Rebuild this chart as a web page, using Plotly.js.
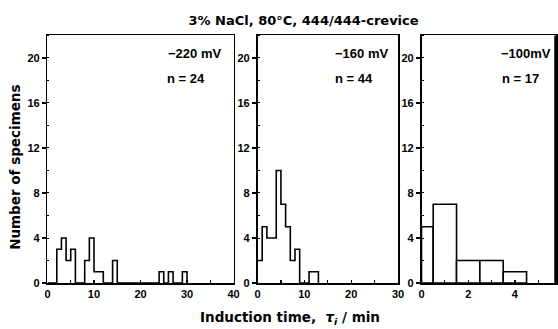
<!DOCTYPE html>
<html>
<head>
<meta charset="utf-8">
<script src="https://cdn.plot.ly/plotly-3.0.1.min.js"></script>
<style>html,body{margin:0;padding:0;background:#fff}#chart{width:558px;height:329px}</style>
</head>
<body>
<div id="chart"></div>
<script>
// ---- data ----
const chartTitle = "3% NaCl, 80°C, 444/444-crevice";
const potentials = ["−220 mV", "−160 mV", "−100mV"];
const sampleSizes = ["n = 24", "n = 44", "n = 17"];

// panel 1 (-220 mV): 1-min bins, bin start (min) and count
const p1BinStart = [2, 3, 4, 5, 8, 9, 10, 11, 14, 24, 26, 29];
const p1Counts   = [3, 4, 2, 3, 2, 4, 1, 1, 2, 1, 1, 1];
// panel 2 (-160 mV)
const p2BinStart = [0, 1, 2, 3, 4, 5, 6, 7, 8, 11, 12];
const p2Counts   = [2, 5, 4, 4, 10, 7, 5, 2, 3, 1, 1];
// panel 3 (-100 mV): bin edges and counts
const p3Edges  = [0, 0.5, 1.5, 2.5, 3.5, 4.5];
const p3Counts = [5, 7, 2, 2, 1];

const yTicks = [0, 4, 8, 12, 16, 20];

// ---- build step outlines ----
function stepPath(starts, counts, width) {
  const m = {};
  starts.forEach((s, i) => { m[s] = counts[i]; });
  const last = Math.max(...starts);
  const xs = [], ys = [];
  for (let b = 0; b <= last; b += width) {
    xs.push(b); ys.push(m[b] || 0);
  }
  xs.push(last + width); ys.push(0);
  return {x: xs, y: ys};
}
const s1 = stepPath(p1BinStart, p1Counts, 1);
const s2 = stepPath(p2BinStart, p2Counts, 1);

const lineStyle = {color: "black", width: 1.6, shape: "hv"};
const p3Centers = p3Counts.map((_, i) => (p3Edges[i] + p3Edges[i + 1]) / 2);
const p3Widths = p3Counts.map((_, i) => p3Edges[i + 1] - p3Edges[i]);

const traces = [
  {type: "scatter", mode: "lines", x: s1.x, y: s1.y, line: lineStyle, xaxis: "x", yaxis: "y", hoverinfo: "skip"},
  {type: "scatter", mode: "lines", x: s2.x, y: s2.y, line: lineStyle, xaxis: "x2", yaxis: "y2", hoverinfo: "skip"},
  {type: "bar", x: p3Centers, y: p3Counts, width: p3Widths, xaxis: "x3", yaxis: "y3",
   marker: {color: "white", line: {color: "black", width: 1.6}}, hoverinfo: "skip"}
];

const FONT = "Liberation Sans, Arial, sans-serif";
const WIDE = "DejaVu Sans, Verdana, sans-serif";
const tickFont = {family: FONT, size: 11, color: "black", weight: "bold"};

function xAxis(domain, range, dtick, minor) {
  return {
    domain: domain, range: range, showgrid: false, zeroline: false,
    showline: true, mirror: true, linecolor: "black", linewidth: 1.6,
    ticks: "inside", ticklen: 3, tickwidth: 1.2, tickcolor: "black", dtick: dtick, tick0: 0,
    minor: {ticks: "inside", ticklen: 3, dtick: minor, tick0: 0, tickcolor: "black", tickwidth: 1.2},
    tickfont: tickFont, fixedrange: true
  };
}
function yAxis(anchor) {
  return {
    domain: [0.1398, 0.8921], range: [0, 22], anchor: anchor,
    showgrid: false, zeroline: false, showline: true, mirror: true,
    linecolor: "black", linewidth: 1.6,
    tickmode: "array", tickvals: yTicks, ticktext: yTicks.map(String),
    ticks: "outside", ticklen: 4, tickwidth: 1.2, tickcolor: "black",
    minor: {ticks: "inside", ticklen: 2, dtick: 2, tick0: 0, tickcolor: "black", tickwidth: 1},
    tickfont: tickFont, fixedrange: true
  };
}

const txtFont = {family: FONT, size: 13, color: "black", weight: "bold"};
const axTitleFont = {family: WIDE, size: 13.5, color: "black", weight: "bold"};
const annotations = [];
const refs = [["x domain", "y domain"], ["x2 domain", "y2 domain"], ["x3 domain", "y3 domain"]];
const potX = [0.944, 0.943, 0.975];
const nX = [0.632, 0.537, 0.584];
for (let i = 0; i < 3; i++) {
  annotations.push({xref: refs[i][0], yref: refs[i][1], x: potX[i], y: 0.929, xanchor: "right", yanchor: "middle",
    text: potentials[i], showarrow: false, font: txtFont});
  annotations.push({xref: refs[i][0], yref: refs[i][1], x: nX[i], y: 0.828, xanchor: "left", yanchor: "middle",
    text: sampleSizes[i], showarrow: false, font: txtFont});
}
annotations.push({xref: "paper", yref: "paper", x: 0.027, y: 0.49, textangle: -90, xanchor: "center", yanchor: "middle",
  text: "Number of specimens", showarrow: false, font: axTitleFont});
annotations.push({xref: "paper", yref: "paper", x: 0.519, y: 0.034, xanchor: "center", yanchor: "middle",
  text: "Induction time,  <i>τ<sub>i</sub></i> / min", showarrow: false, font: axTitleFont});

const layout = {
  width: 558, height: 329,
  margin: {l: 0, r: 0, t: 0, b: 0},
  paper_bgcolor: "white", plot_bgcolor: "white",
  showlegend: false, bargap: 0,
  title: {text: chartTitle, x: 0.544, y: 0.939, xanchor: "center", yanchor: "middle",
          font: {family: WIDE, size: 13, color: "black", weight: "bold"}},
  xaxis: xAxis([0.0851, 0.4185], [0, 40], 10, 5),
  yaxis: yAxis("x"),
  xaxis2: Object.assign(xAxis([0.4615, 0.7133], [0, 30], 10, 5), {anchor: "y2"}),
  yaxis2: yAxis("x2"),
  xaxis3: Object.assign(xAxis([0.7554, 0.9964], [0, 5.76], 2, 1), {anchor: "y3"}),
  yaxis3: yAxis("x3"),
  annotations: annotations,
  shapes: [{type: "line", xref: "x3 domain", yref: "y3 domain", x0: 1, x1: 1, y0: 0, y1: 1,
            line: {color: "black", width: 3.5}}]
};
layout.xaxis.anchor = "y";

Plotly.newPlot("chart", traces, layout, {displayModeBar: false, staticPlot: true});
</script>
</body>
</html>
